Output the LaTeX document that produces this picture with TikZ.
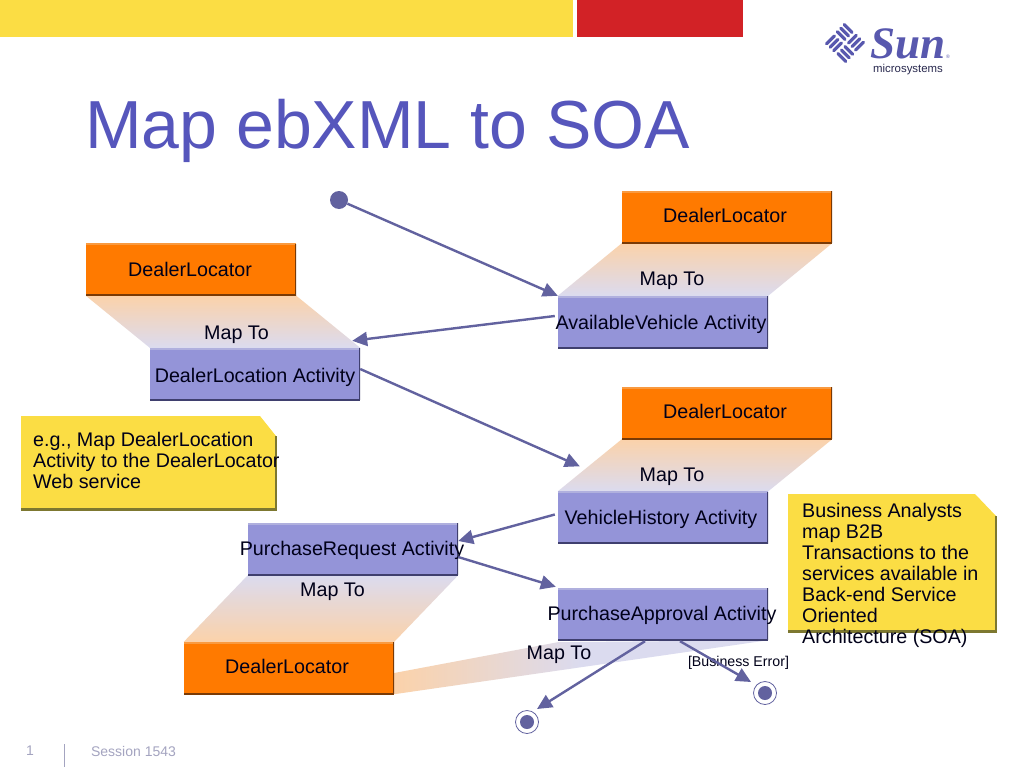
\documentclass[tikz,border=0pt]{standalone}
\usepackage{fontspec}
\setmainfont{Liberation Sans}
\newfontfamily\logoserif{Liberation Serif}
\usetikzlibrary{arrows.meta,backgrounds}
\definecolor{flowc}{HTML}{62629F}
\definecolor{orangebox}{HTML}{FF7A00}
\definecolor{orangedark}{HTML}{7A3A05}
\definecolor{orangelight}{HTML}{F99A40}
\definecolor{lilacbox}{HTML}{9494D8}
\definecolor{lilacdark}{HTML}{3F3F6E}
\definecolor{lilaclight}{HTML}{B0B0DE}
\definecolor{fadeorange}{HTML}{FBD2AA}
\definecolor{fadelilac}{HTML}{DBDBEF}
\definecolor{notey}{HTML}{FBDD44}
\definecolor{noted}{HTML}{7D7830}
\definecolor{titlec}{HTML}{5656BC}
\definecolor{footc}{HTML}{A4A4C0}
\definecolor{logoc}{HTML}{5858AE}
\definecolor{barred}{HTML}{D22226}
\newcommand{\pxfont}[2]{\fontsize{#1}{#2}\selectfont}
\newcommand{\boxlabel}[3]{\smash{\raisebox{-#2pt}{\makebox[0pt]{\hspace*{#1pt}#3}}}}
\tikzset{
  x=1pt, y=-1pt,
  bx/.style={minimum width=210pt, minimum height=52pt, inner sep=0pt, text=black!90!blue,
    font=\pxfont{19.7}{21}},
  svcbox/.style={bx, fill=orangebox, path picture={
    \draw[orangelight,line width=3pt] (path picture bounding box.north west) -- (path picture bounding box.north east);
    \draw[orangedark,line width=3pt] (path picture bounding box.south west) -- (path picture bounding box.south east);
    \draw[orangedark,line width=2pt] (path picture bounding box.south east) -- (path picture bounding box.north east);}},
  actbox/.style={bx, fill=lilacbox, path picture={
    \draw[lilaclight,line width=3pt] (path picture bounding box.north west) -- (path picture bounding box.north east);
    \draw[lilacdark,line width=3pt] (path picture bounding box.south west) -- (path picture bounding box.south east);
    \draw[lilacdark,line width=2pt] (path picture bounding box.south east) -- (path picture bounding box.north east);}},
  plain/.style={inner sep=0pt, text=black!90!blue, font=\pxfont{19.7}{21}},
  notetext/.style={plain, align=left, anchor=north west},
  flow/.style={draw=flowc, line width=2.4pt, -{Triangle[length=15pt,width=14pt]}},
  fade/.style={top color=fadeorange, bottom color=fadelilac},
  fadeup/.style={top color=fadelilac, bottom color=fadeorange},
  notebody/.style={fill=notey},
  noteedge/.style={draw=noted, line width=2.5pt},
  logobar/.style={draw=logoc, line width=3.2pt, line cap=round},
}
\begin{document}
\begin{tikzpicture}
\useasboundingbox (0,0) rectangle (1024,768);
% header
\fill[fill=notey] (0,0) rectangle (573,37);
\fill[fill=barred] (577,0) rectangle (743,37);
\node[anchor=base west, inner sep=0pt, text=titlec, font=\pxfont{68}{70}] (title) at (85,148) {Map ebXML to SOA};
% logo
\begin{scope}[shift={(845,43)}, rotate=45]
  \foreach \a in {0,90,180,270}{
    \begin{scope}[rotate=\a]
      \foreach \d in {2.5,7.5,12.5}{
        \draw[logobar] (2.5,\d) -- (13.5,\d);
      }
    \end{scope}
  }
\end{scope}
\node[anchor=base west, inner sep=0pt, text=logoc, font={\logoserif\bfseries\itshape\pxfont{45}{45}}] (sun) at (870,59) {Sun};
\node[anchor=base west, inner sep=0pt, text=black!55!logoc, font=\pxfont{11.4}{12}] (micro) at (873,72) {microsystems};
\node[anchor=base west, inner sep=0pt, text=logoc, font=\pxfont{5}{6}] (reg) at (946,59) {®};
% boxes
\node[svcbox] (dA) at (727,217) {\boxlabel{-4}{5}{DealerLocator}};
\node[actbox] (av) at (663,322) {\boxlabel{-4}{7}{AvailableVehicle Activity}};
\node[svcbox] (dB) at (191,269.5) {\boxlabel{-2}{6.5}{DealerLocator}};
\node[actbox] (dl) at (255,374) {\boxlabel{0}{8}{DealerLocation Activity}};
\node[svcbox] (dC) at (727,413) {\boxlabel{-4}{5}{DealerLocator}};
\node[actbox] (vh) at (663,517.5) {\boxlabel{-4}{6.5}{VehicleHistory Activity}};
\node[actbox] (pr) at (353,549) {\boxlabel{-2}{6}{PurchaseRequest Activity}};
\node[actbox] (pa) at (663,614) {\boxlabel{-2}{6}{PurchaseApproval Activity}};
\node[svcbox] (dD) at (289,668) {\boxlabel{-4}{5}{DealerLocator}};
% gradient links
\begin{scope}[on background layer]
  \fill[white] (0,0) rectangle (1024,768);
  \shade[fade] (dA.south west) -- (dA.south east) -- (av.north east) -- (av.north west) -- cycle;
  \shade[fade] (dB.south west) -- (dB.south east) -- (dl.north east) -- (dl.north west) -- cycle;
  \shade[fade] (dC.south west) -- (dC.south east) -- (vh.north east) -- (vh.north west) -- cycle;
  \shade[fadeup] (pr.south west) -- (pr.south east) -- (dD.north east) -- (dD.north west) -- cycle;
  \shade[left color=fadeorange, right color=fadelilac, middle color=fadelilac]
    ([yshift=-5pt]dD.east) -- ([yshift=-2pt]pa.south west) -- (pa.south east) -- (dD.south east) -- cycle;
\end{scope}
% labels
\node[plain] (m1) at (672,281) {Map To};
\node[plain] (m2) at (236.5,335) {Map To};
\node[plain] (m3) at (672,477) {Map To};
\node[plain] (m4) at (332.5,592) {Map To};
\node[plain] (m5) at (559,655) {Map To};
\node[plain, font=\pxfont{14.2}{15}] (be) at (738.5,663) {[Business Error]};
% notes
\path[notebody] (21,416) -- (260,416) -- (276,436) -- (276,510) -- (21,510) -- cycle;
\draw[noteedge] (21,509.5) -- (276,509.5) -- (276,436);
\node[notetext] (n1) at (33,432) {e.g., Map DealerLocation\\Activity to the DealerLocator\\Web service};
\path[notebody] (788,494) -- (975,494) -- (996,516) -- (996,632) -- (788,632) -- cycle;
\draw[noteedge] (788,631.5) -- (996,631.5) -- (996,516);
\node[notetext] (n2) at (802,503) {Business Analysts\\map B2B\\Transactions to the\\services available in\\Back-end Service\\Oriented\\Architecture (SOA)};
% start / end states
\node[circle, fill=flowc, minimum size=18pt, inner sep=0pt] (start) at (339,200) {};
\node[circle, draw=flowc, fill=white, line width=0.8pt, minimum size=23pt, inner sep=0pt] (end1) at (527,722) {};
\node[circle, fill=flowc, minimum size=14pt, inner sep=0pt] (end1dot) at (527,722) {};
\node[circle, draw=flowc, fill=white, line width=0.8pt, minimum size=23pt, inner sep=0pt] (end2) at (765,693) {};
\node[circle, fill=flowc, minimum size=14pt, inner sep=0pt] (end2dot) at (765,693) {};
% flows
\draw[flow] (start) -- (av.north west);
\draw[flow] ([shift={(-3,-6)}]av.west) -- ([shift={(-8,-7)}]dl.north east);
\draw[flow] ([shift={(0,-5)}]dl.east) -- ([shift={(22,-25)}]vh.north west);
\draw[flow] ([shift={(-3,-3)}]vh.west) -- ([shift={(0,-8)}]pr.east);
\draw[flow] ([shift={(0,8)}]pr.east) -- ([shift={(-2,-1)}]pa.north west);
\draw[flow] ([shift={(-18,1)}]pa.south) -- ([shift={(10,-13)}]end1.center);
\draw[flow] ([shift={(17,1)}]pa.south) -- ([shift={(-14,-11)}]end2.center);
% footer
\node[inner sep=0pt, text=footc, font=\pxfont{14}{15}] (pg) at (30,751) {1};
\draw[footc, line width=1pt] (64,744) -- (64,767);
\node[inner sep=0pt, text=footc, font=\pxfont{14}{15}] (sess) at (133.5,751) {Session 1543};
\end{tikzpicture}
\end{document}
